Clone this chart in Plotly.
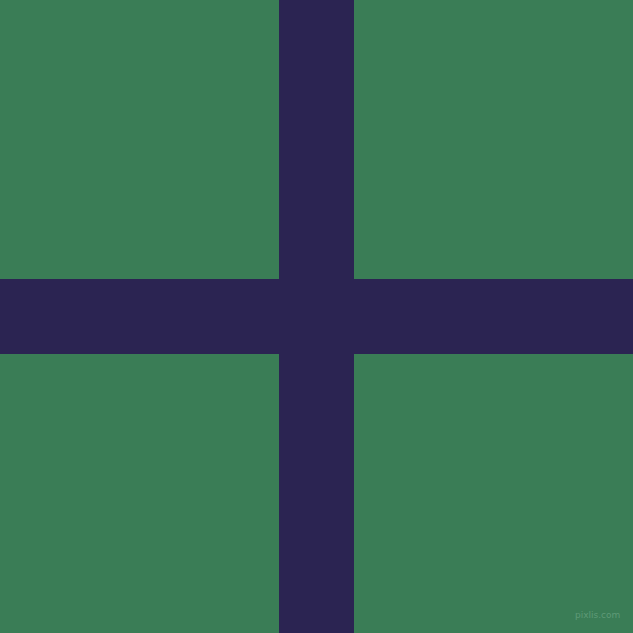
import plotly.graph_objects as go

# canvas size and cross band extents (pixel units, y measured from top)
canvas = [0, 633]
vertical_band = [279, 354]
horizontal_band = [279, 354]

bg_color = '#3A7D56'
cross_color = '#2B2452'

fig = go.Figure()

# vertical arm
fig.add_shape(type='rect', xref='x', yref='y',
              x0=vertical_band[0], x1=vertical_band[1], y0=canvas[0], y1=canvas[1],
              fillcolor=cross_color, line_width=0, layer='above')
# horizontal arm
fig.add_shape(type='rect', xref='x', yref='y',
              x0=canvas[0], x1=canvas[1], y0=horizontal_band[0], y1=horizontal_band[1],
              fillcolor=cross_color, line_width=0, layer='above')

fig.add_annotation(text='pixlis.com', x=597, y=615, xref='x', yref='y',
                   showarrow=False, font=dict(family='DejaVu Sans', size=9, color='#5E9A76'))

fig.update_layout(width=633, height=633, margin=dict(l=0, r=0, t=0, b=0),
                  paper_bgcolor=bg_color, plot_bgcolor=bg_color, showlegend=False)
fig.update_xaxes(range=canvas, visible=False, fixedrange=True)
fig.update_yaxes(range=canvas[::-1], visible=False, fixedrange=True)

# drop the default page margin so the figure sits flush in the window
fig.write_html("out.html", config={'displayModeBar': False},
               post_script="document.body.style.margin='0';document.body.style.overflow='hidden';"
                           "document.body.style.background='" + bg_color + "';")
